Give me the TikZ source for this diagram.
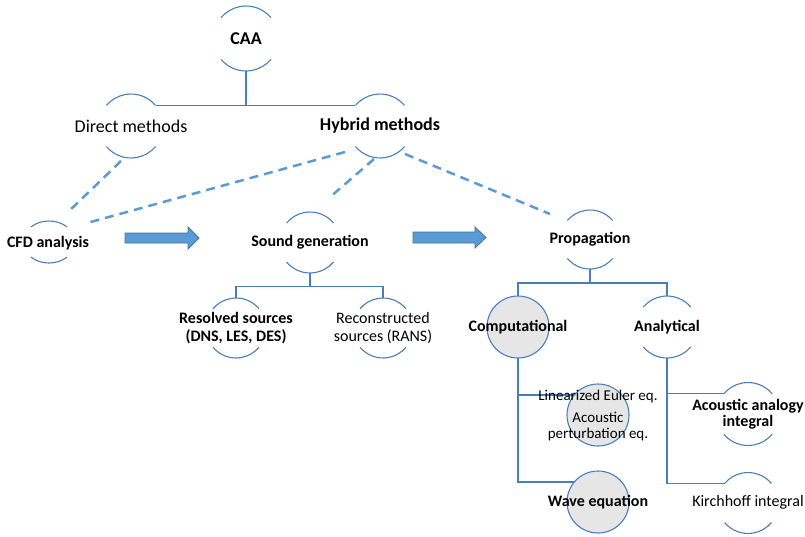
\documentclass[tikz,border=0pt]{standalone}
\usepackage{fontspec}
\setmainfont{Carlito}
\usetikzlibrary{calc,shapes.geometric}
\definecolor{lineblue}{HTML}{4A7EBB}
\definecolor{dashblue}{HTML}{5B9BD5}
\definecolor{arrowedge}{HTML}{41719C}
\definecolor{ringgray}{HTML}{E6E6E6}
\newcommand\ringarcs[2]{%
  \draw[ringline] (#1.40) arc[start angle=40,end angle=140,radius=#2];
  \draw[ringline] (#1.220) arc[start angle=220,end angle=320,radius=#2];}
\begin{document}
\begin{tikzpicture}[x=1pt,y=1pt,
  ring/.style={circle,inner sep=0pt,outer sep=0pt,minimum size=#1},
  grayring/.style={circle,inner sep=0pt,outer sep=0pt,minimum size=#1,fill=ringgray,draw=lineblue,line width=1.1pt},
  ringline/.style={draw=lineblue,line width=1.1pt},
  conn/.style={draw=lineblue,line width=1.3pt},
  dashconn/.style={draw=dashblue,line width=2.5pt,dash pattern=on 9pt off 6pt},
  blockarrow/.style={fill=dashblue,draw=arrowedge,line width=0.8pt},
  bigb/.style={font=\fontsize{18}{21}\selectfont\bfseries,inner sep=0pt},
  bigr/.style={font=\fontsize{18}{21}\selectfont,inner sep=0pt},
  medb/.style={font=\fontsize{16}{18}\selectfont\bfseries,align=center,inner sep=0pt},
  medr/.style={font=\fontsize{16}{18}\selectfont,align=center,inner sep=0pt},
  smr/.style={font=\fontsize{15}{16}\selectfont,align=center,inner sep=0pt},
]
\useasboundingbox (0,0) rectangle (805,-536);

% shape nodes
\node[ring=65pt] (caa) at (246,-38.5) {};
\node[ring=64pt] (direct) at (131,-126) {};
\node[ring=64pt] (hybrid) at (380,-126) {};
\node[ellipse,inner sep=0pt,outer sep=0pt,minimum width=52pt,minimum height=42pt] (cfd) at (49,-242) {};
\node[ring=61pt] (sg) at (310,-242.5) {};
\node[ring=59pt] (prop) at (590,-239.5) {};
\node[ring=60pt] (rs) at (236,-328) {};
\node[ring=60pt] (rc) at (383,-328) {};
\node[ring=62pt] (ana) at (667,-327) {};
\node[ring=63pt] (aai) at (748,-414) {};
\node[ring=61pt] (kir) at (748,-503) {};

% connectors
\draw[conn] (caa.south) -- (caa.south |- direct.40);
\draw[conn] (direct.40) -- (hybrid.140);
\draw[conn] (sg.south) -- ++(0,-13.5) -| (rs.north);
\draw[conn] (sg.south) -- ++(0,-13.5) -| (rc.north);
\draw[conn] (prop.south) -- ++(0,-14) -| (518,-296);
\draw[conn] (prop.south) -- ++(0,-14) -| (ana.north);

% gray nodes
\node[grayring=62pt] (comp) at (518,-327) {};
\node[grayring=62pt] (ape) at (598,-415) {};
\node[grayring=62pt] (wave) at (598,-502) {};

\draw[conn] (comp.south) |- (wave.140);
\draw[conn] (comp.south |- ape.140) -- (ape.140);
\draw[conn] (ana.south) |- (kir.140);
\draw[conn] (ana.south |- aai.140) -- (aai.140);

% dashed connectors
\draw[dashconn] ($(direct)+(-10,-35)$) -- ($(cfd)+(18,29)$);
\draw[dashconn] ($(hybrid)+(-35,-26)$) -- ($(cfd)+(38,19)$);
\draw[dashconn] ($(hybrid)+(-6,-33)$) -- ($(sg)+(19,44.5)$);
\draw[dashconn] ($(hybrid)+(25,-28)$) -- ($(prop)+(-40,25.5)$);

% block arrows
\coordinate (ar1) at (125,-238);
\coordinate (ar2) at (413,-237.5);
\draw[blockarrow] (ar1) ++(0,5) -- ++(63,0) -- ++(0,6) -- ++(11,-11) -- ++(-11,-11) -- ++(0,6) -- ++(-63,0) -- cycle;
\draw[blockarrow] (ar2) ++(0,5.5) -- ++(62,0) -- ++(0,5) -- ++(11,-10.5) -- ++(-11,-10.5) -- ++(0,5) -- ++(-62,0) -- cycle;

% ring arcs
\ringarcs{caa}{32.5pt}
\ringarcs{direct}{32pt}
\ringarcs{hybrid}{32pt}
\ringarcs{sg}{30.5pt}
\ringarcs{prop}{29.5pt}
\ringarcs{rs}{30pt}
\ringarcs{rc}{30pt}
\ringarcs{ana}{31pt}
\ringarcs{aai}{31.5pt}
\ringarcs{kir}{30.5pt}
\draw[ringline] (cfd.center) ++(46:26pt and 21pt) arc[start angle=46,end angle=134,x radius=26pt,y radius=21pt];
\draw[ringline] (cfd.center) ++(226:26pt and 21pt) arc[start angle=226,end angle=314,x radius=26pt,y radius=21pt];

% texts
\node[bigb] (caa-t) at (caa) {CAA};
\node[bigr] (direct-t) at (direct) {Direct methods};
\node[bigb] (hybrid-t) at (hybrid) {Hybrid methods};
\node[medb] (cfd-t) at ($(cfd)+(-1,-1)$) {CFD analysis};
\node[medb] (sg-t) at (sg) {Sound generation};
\node[medb] (prop-t) at (prop) {Propagation};
\node[medb] (rs-t) at (rs) {Resolved sources\\(DNS, LES, DES)};
\node[medr] (rc-t) at (rc) {Reconstructed\\sources (RANS)};
\node[medb] (comp-t) at (comp) {Computational};
\node[medb] (ana-t) at (ana) {Analytical};
\node[smr] (lin-t) at ($(ape)+(0,19)$) {Linearized Euler eq.};
\node[smr] (ape-t) at ($(ape)+(0,-12)$) {Acoustic\\perturbation eq.};
\node[medb] (wave-t) at (wave) {Wave equation};
\node[medb,font=\fontsize{16}{16}\selectfont\bfseries] (aai-t) at (aai) {Acoustic analogy\\integral};
\node[medr] (kir-t) at ($(kir)+(0,1)$) {Kirchhoff integral};
\end{tikzpicture}
\end{document}
